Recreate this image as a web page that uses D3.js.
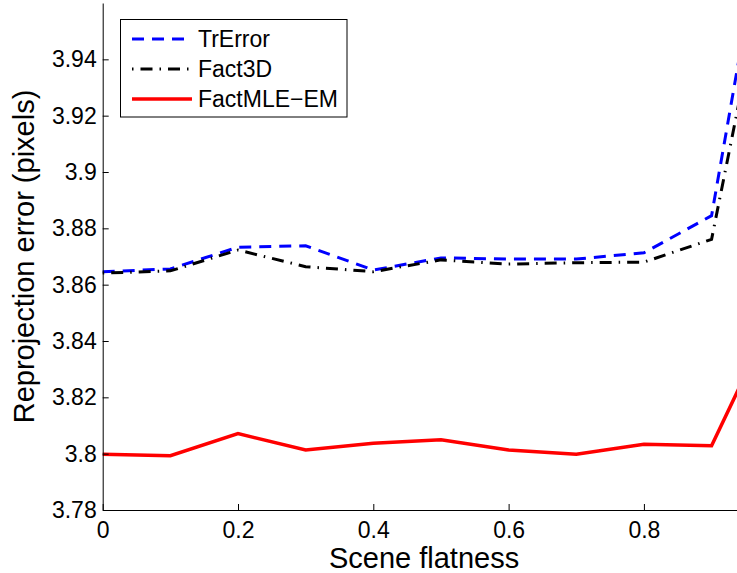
<!DOCTYPE html>
<html>
<head>
<meta charset="utf-8">
<script src="https://cdn.jsdelivr.net/npm/d3@7"></script>
<style>
  body { margin: 0; background: #fff; }
  svg { display: block; font-family: "Liberation Sans", Arial, sans-serif; }
</style>
</head>
<body>
<div id="chart"></div>
<script>
// scene flatness values and reprojection error for each method
var flatness = [0, 0.1, 0.2, 0.3, 0.4, 0.5, 0.6, 0.7, 0.8, 0.9, 0.95];
var trError  = [3.8646, 3.8656, 3.8733, 3.8738, 3.8652, 3.8695, 3.8691, 3.8691, 3.8713, 3.8845, 3.953];
var fact3D   = [3.8641, 3.8649, 3.8723, 3.8664, 3.8646, 3.8688, 3.8673, 3.8678, 3.8680, 3.8761, 3.936];
var factMLE  = [3.7998, 3.7993, 3.8071, 3.8013, 3.8037, 3.8049, 3.8013, 3.7998, 3.8033, 3.8028, 3.828];
var seriesNames = ["TrError", "Fact3D", "FactMLE\u2212EM"];
var xTicks = [0, 0.2, 0.4, 0.6, 0.8];
var yTicks = [3.78, 3.8, 3.82, 3.84, 3.86, 3.88, 3.9, 3.92, 3.94];

var w = 737;
var h = 573;
var margin = { top: 3, left: 102.7, bottom: 510, right: 745.4 };

var xscale = d3.scaleLinear().domain([0, 0.95]).range([margin.left, margin.right]);
var yscale = d3.scaleLinear().domain([3.78, 3.96]).range([margin.bottom, margin.top]);

var svg = d3.select("#chart")
            .append("svg")
            .attr("width", w)
            .attr("height", h);

// line styles, same order as the legend
var styles = [
    { color: "#0000ff", width: 3, dash: "12,8" },
    { color: "#000000", width: 3, dash: "1.5,7,12,7" },
    { color: "#ff0000", width: 3.5, dash: null }
];
var allSeries = [trError, fact3D, factMLE];

var line = d3.line()
             .x((d, i) => xscale(flatness[i]))
             .y(d => yscale(d));

allSeries.forEach(function(vals, k) {
    svg.append("path")
       .datum(vals)
       .attr("d", line)
       .attr("fill", "none")
       .attr("stroke", styles[k].color)
       .attr("stroke-width", styles[k].width)
       .attr("stroke-dasharray", styles[k].dash);
});

// axes, ticks pointing inward like matlab
var xAxis = svg.append("g")
   .attr("transform", `translate(0, ${margin.bottom})`)
   .call(d3.axisBottom(xscale).tickValues(xTicks).tickFormat(d => d)
           .tickSizeInner(-6).tickSizeOuter(0).tickPadding(11.5));

var yAxis = svg.append("g")
   .attr("transform", `translate(${margin.left}, 0)`)
   .call(d3.axisLeft(yscale).tickValues(yTicks).tickFormat(d => String(+d.toFixed(2)))
           .tickSizeInner(-6).tickSizeOuter(0).tickPadding(6));

[xAxis, yAxis].forEach(function(ax) {
    ax.selectAll("text").attr("font-size", 23).attr("fill", "#000")
      .attr("font-family", "Liberation Sans, Arial, sans-serif");
    ax.selectAll("line").attr("stroke", "#000");
    ax.select(".domain").attr("stroke", "#000");
});

// axis labels
svg.append("text")
   .attr("x", (margin.left + margin.right) / 2)
   .attr("y", 568)
   .attr("text-anchor", "middle")
   .attr("font-size", 29)
   .text("Scene flatness");

svg.append("text")
   .attr("transform", `translate(34, ${(margin.top + margin.bottom) / 2}) rotate(-90)`)
   .attr("text-anchor", "middle")
   .attr("font-size", 29)
   .text("Reprojection error (pixels)");

// legend
var legend = svg.append("g");
legend.append("rect")
      .attr("x", 120.5)
      .attr("y", 19.5)
      .attr("width", 226.5)
      .attr("height", 97.5)
      .attr("fill", "#fff")
      .attr("stroke", "#000")
      .attr("stroke-width", 1);

seriesNames.forEach(function(name, i) {
    var cy = 39 + i * 30;
    legend.append("line")
          .attr("x1", 132).attr("x2", 192)
          .attr("y1", cy).attr("y2", cy)
          .attr("stroke", styles[i].color)
          .attr("stroke-width", styles[i].width)
          .attr("stroke-dasharray", styles[i].dash);
    legend.append("text")
          .attr("x", 198)
          .attr("y", cy + 8)
          .attr("font-size", 23)
          .text(name);
});
</script>
</body>
</html>
